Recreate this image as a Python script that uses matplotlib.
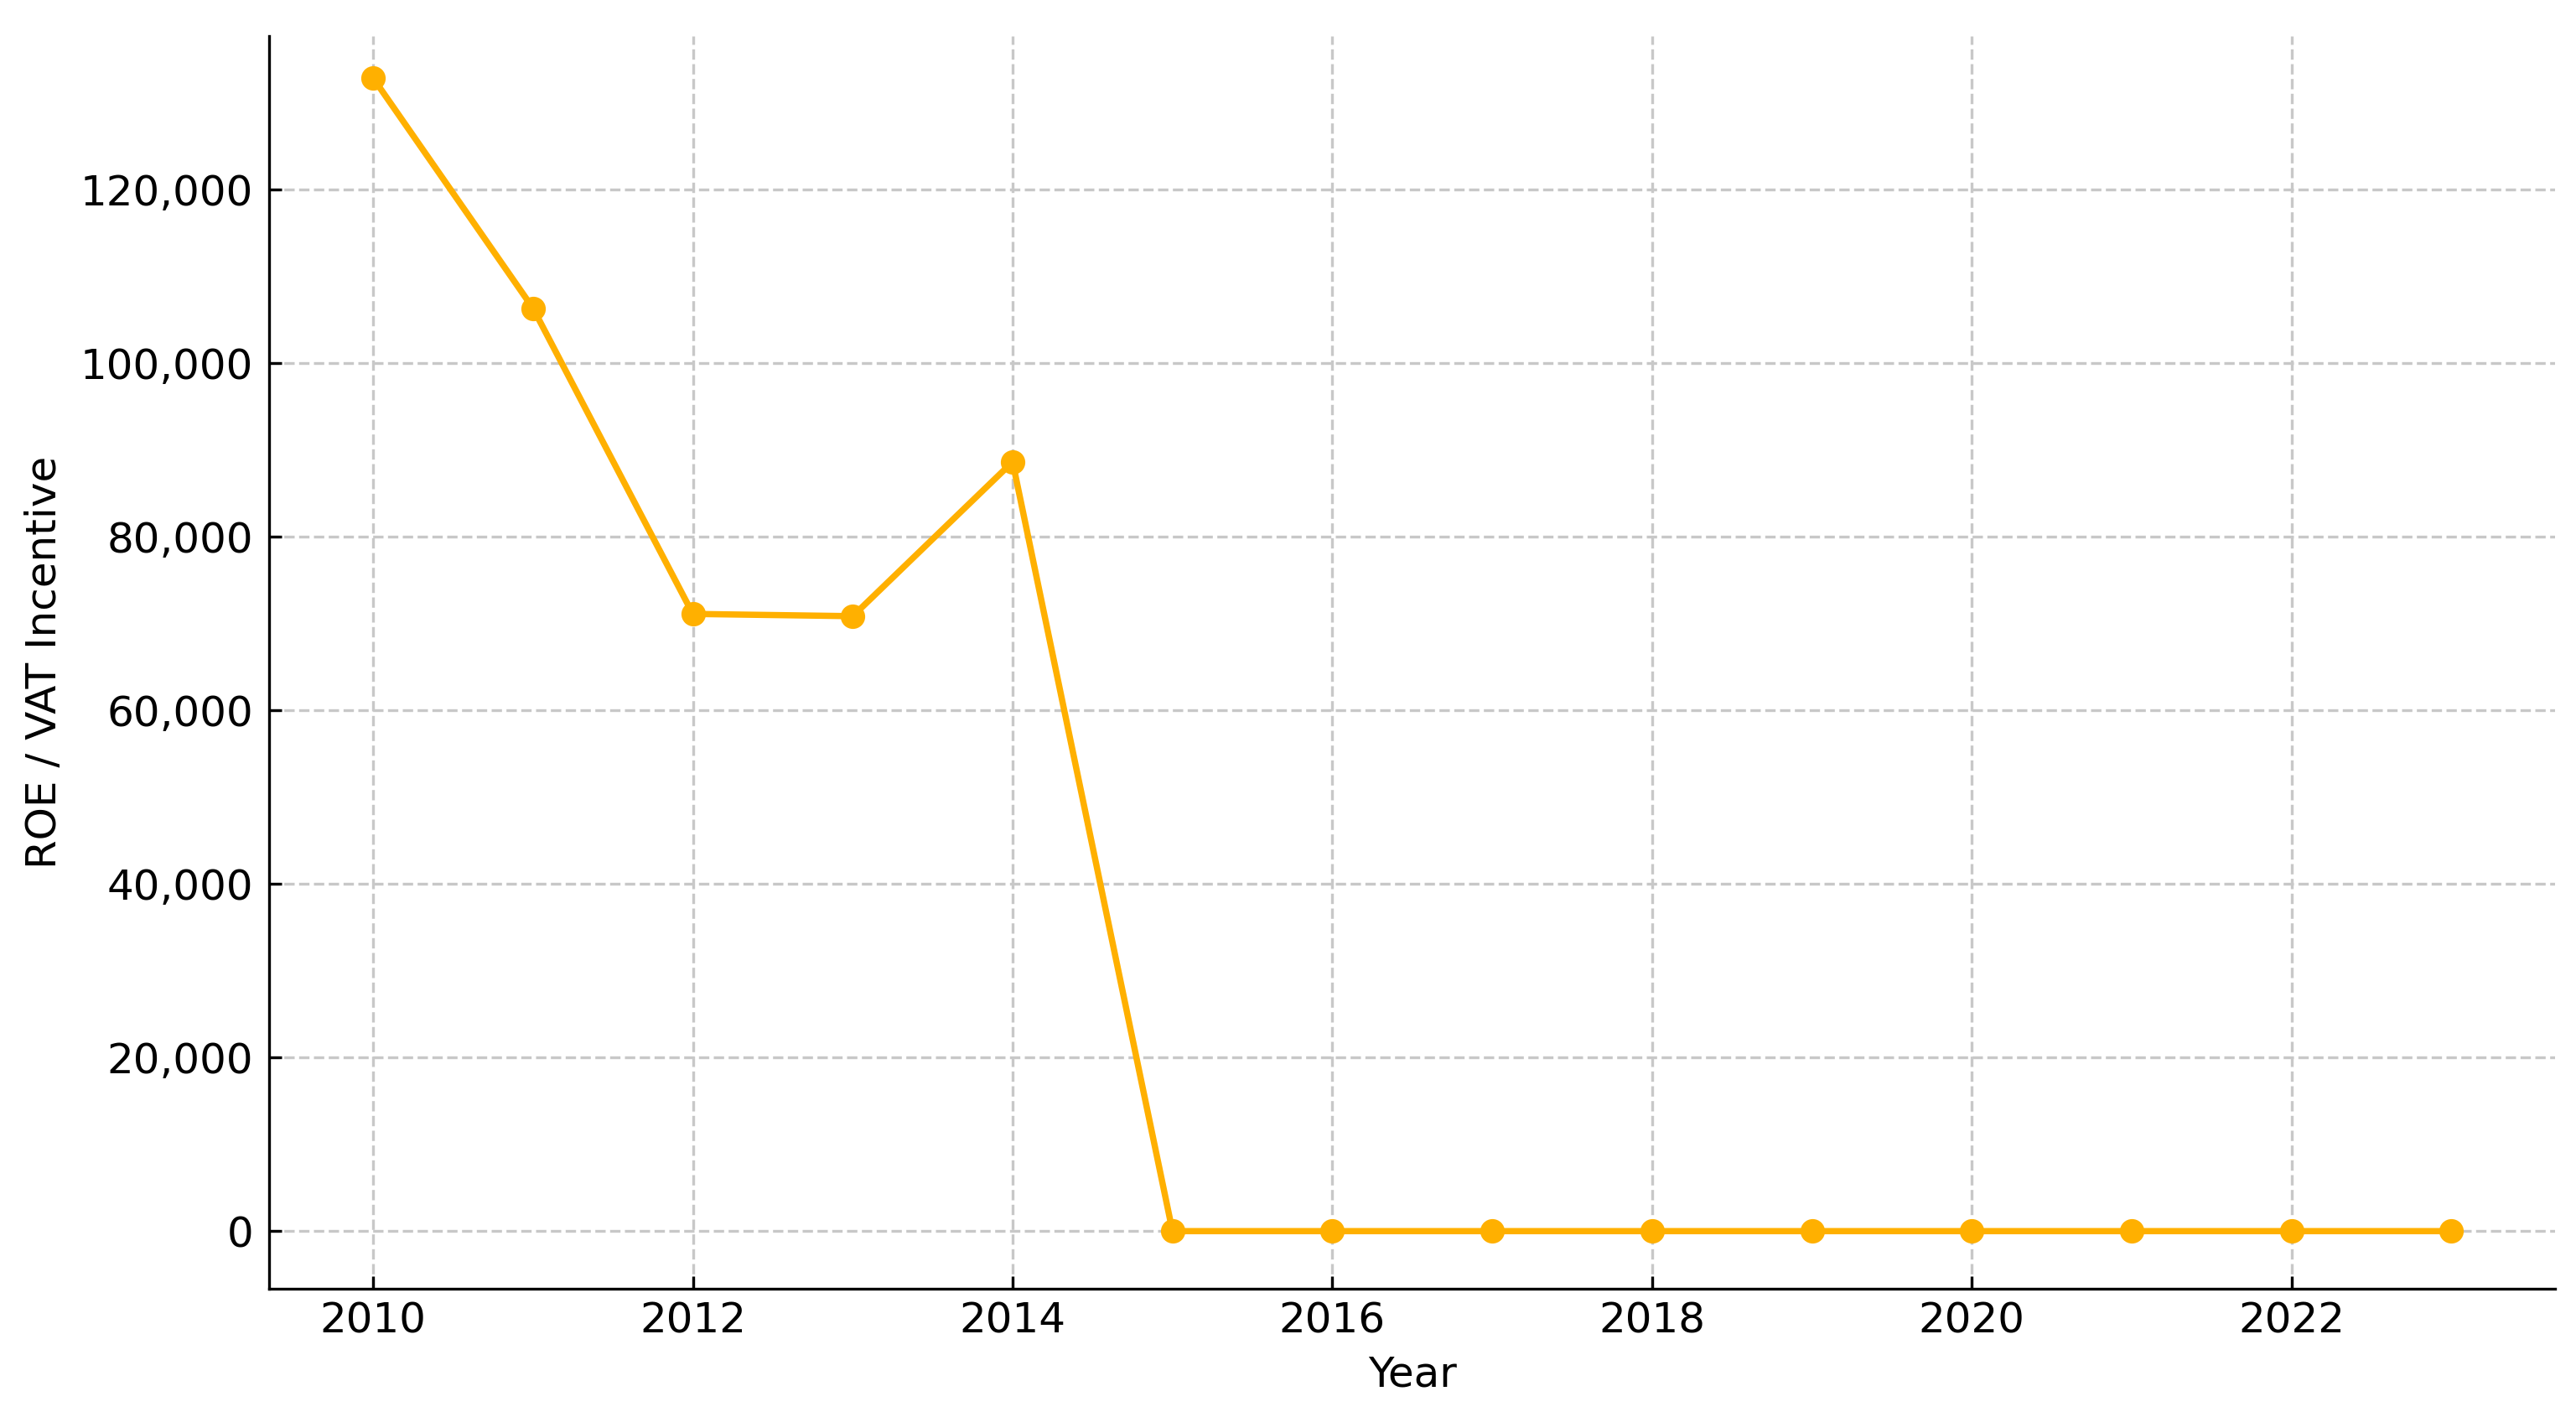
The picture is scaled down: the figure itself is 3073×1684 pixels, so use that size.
import numpy as np
import matplotlib.pyplot as plt
from matplotlib.ticker import FuncFormatter

# data to plot
years = [2010, 2011, 2012, 2013, 2014, 2015, 2016, 2017, 2018, 2019, 2020, 2021, 2022, 2023]
incentive = [132790, 106290, 71080, 70820, 88590, 0, 0, 0, 0, 0, 0, 0, 0, 0]

fig = plt.figure(figsize=(3073 / 300, 1684 / 300), dpi=300)
ax = fig.add_axes([0.1045, 0.0875, 0.8875, 0.8868])

ax.plot(years, incentive, marker='o', color='#FFB000', linewidth=1.8, markersize=6)

ax.set_ylim(-6600, 137600)
ax.set_xlabel('Year', fontsize=12)
ax.set_ylabel('ROE / VAT Incentive', fontsize=12, labelpad=4.5)
ax.yaxis.set_major_formatter(FuncFormatter(lambda v, p: f'{v:,.0f}'))
ax.tick_params(direction='in', labelsize=12)
ax.tick_params(axis='y', pad=4.5)
ax.grid(True, linestyle='--', color='#c8c8c8', linewidth=0.8)

ax.spines['top'].set_visible(False)
ax.spines['right'].set_visible(False)

fig.savefig('out.png', dpi=300)
